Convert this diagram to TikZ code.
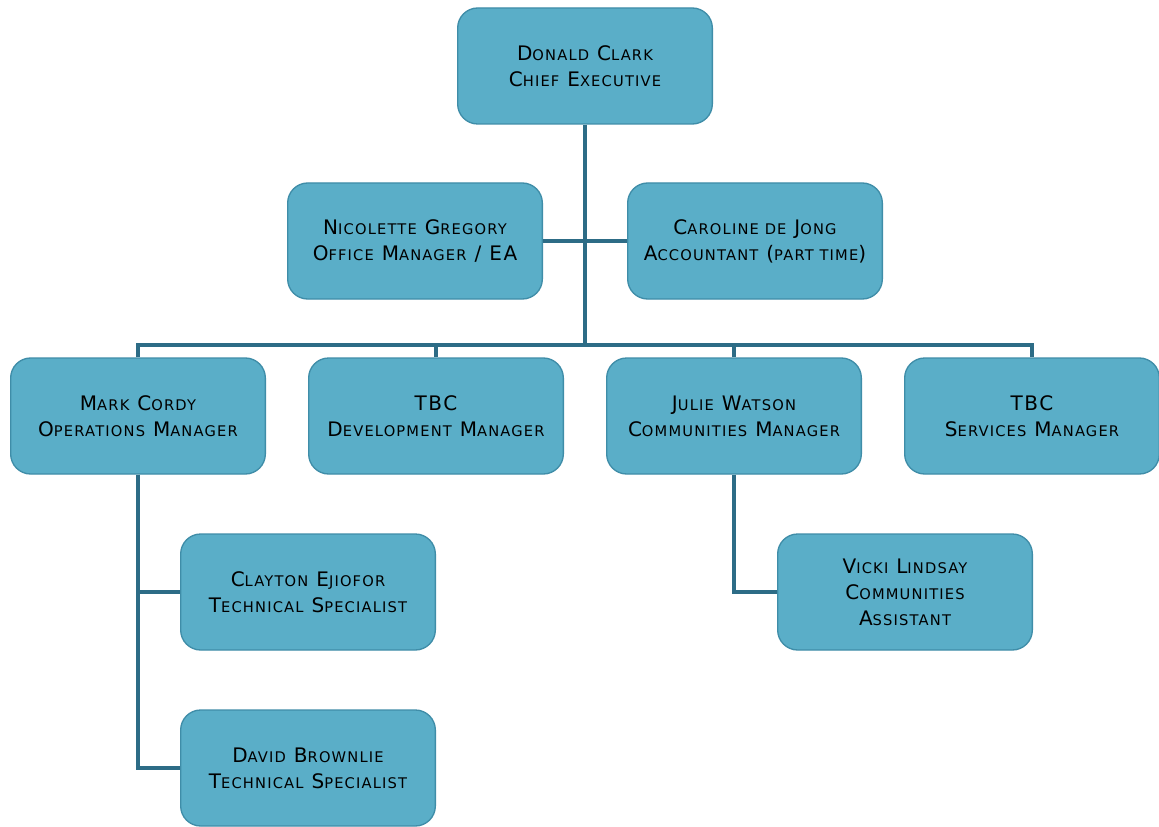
\documentclass[tikz,border=0pt]{standalone}
\usepackage{fontspec}
\setmainfont[LetterSpace=8]{DejaVu Sans}
\newcommand\sk[1]{{\fontsize{11}{12}\selectfont #1}}
\definecolor{boxfill}{HTML}{5AAEC8}
\definecolor{boxedge}{HTML}{3F8DA8}
\definecolor{linkc}{HTML}{2D6C86}
\tikzset{
  x=0.75pt, y=-0.75pt,
  person/.style={draw=boxedge, line width=1pt, fill=boxfill, rounded corners=15pt,
    minimum width=191pt, minimum height=87pt, align=center,
    font=\fontsize{15}{19.5}\selectfont, text=black, inner sep=0pt},
  link/.style={draw=linkc, line width=3pt}
}
\begin{document}
\begin{tikzpicture}
\useasboundingbox (0,0) rectangle (1159,827);
\fill[white] (0,0) rectangle (1159,827);
\coordinate (bus) at (585,345);
\node[person] (ceo) at (585,66) {D\sk{ONALD} C\sk{LARK}\\C\sk{HIEF} E\sk{XECUTIVE}};
\node[person] (nic) at (415,241) {N\sk{ICOLETTE} G\sk{REGORY}\\O\sk{FFICE} M\sk{ANAGER} / EA};
\node[person] (car) at (755,241) {C\sk{AROLINE DE} J\sk{ONG}\\A\sk{CCOUNTANT} (\sk{PART TIME})};
\node[person] (ops) at (138,416) {M\sk{ARK} C\sk{ORDY}\\O\sk{PERATIONS} M\sk{ANAGER}};
\node[person] (dev) at (436,416) {TBC\\D\sk{EVELOPMENT} M\sk{ANAGER}};
\node[person] (jul) at (734,416) {J\sk{ULIE} W\sk{ATSON}\\C\sk{OMMUNITIES} M\sk{ANAGER}};
\node[person] (svc) at (1032,416) {TBC\\S\sk{ERVICES} M\sk{ANAGER}};
\node[person] (cla) at (308,592) {C\sk{LAYTON} E\sk{JIOFOR}\\T\sk{ECHNICAL} S\sk{PECIALIST}};
\node[person] (dav) at (308,768) {D\sk{AVID} B\sk{ROWNLIE}\\T\sk{ECHNICAL} S\sk{PECIALIST}};
\node[person] (vic) at (905,592) {V\sk{ICKI} L\sk{INDSAY}\\C\sk{OMMUNITIES}\\A\sk{SSISTANT}};
\begin{scope}[link]
\draw (ceo.south) -- (bus);
\draw (nic.east) -- (car.west);
\draw (ops.north) -- (ops.north |- bus) -- (svc.north |- bus) -- (svc.north);
\draw (dev.north) -- (dev.north |- bus);
\draw (jul.north) -- (jul.north |- bus);
\draw (ops.south) |- (cla.west);
\draw (ops.south) |- (dav.west);
\draw (jul.south) |- (vic.west);
\end{scope}
\end{tikzpicture}
\end{document}
